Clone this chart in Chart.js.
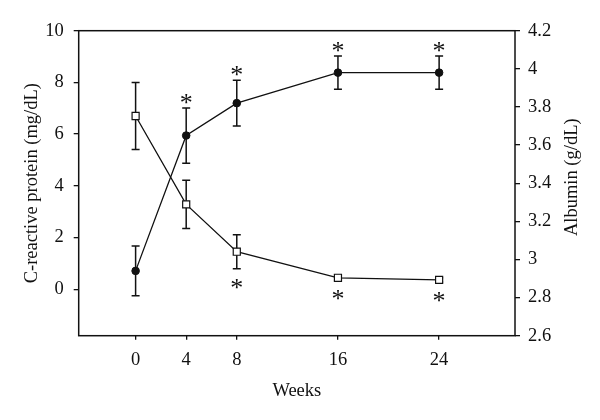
<!DOCTYPE html>
<html>
<head>
<meta charset="utf-8">
<script src="https://cdn.jsdelivr.net/npm/chart.js@4.4.1/dist/chart.umd.min.js"></script>
<style>
  html, body { margin: 0; padding: 0; background: #fff; }
</style>
</head>
<body>
<canvas id="chart" width="600" height="420"></canvas>
<script>
// values
const weeks = [0, 4, 8, 16, 24];
const crp = [6.7, 3.28, 1.45, 0.44, 0.36];
const crpSd = [1.3, 0.93, 0.66, 0.1, 0.08];
const crpSig = [false, false, true, true, true];
const albumin = [2.94, 3.65, 3.82, 3.98, 3.98];
const albuminSd = [0.13, 0.145, 0.12, 0.087, 0.087];
const albuminSig = [false, true, true, true, true];
const crpTicks = [0, 2, 4, 6, 8, 10];
const albuminTicks = [2.6, 2.8, 3, 3.2, 3.4, 3.6, 3.8, 4, 4.2];

const FONT = 'Liberation Serif, Times New Roman, serif';
const FS = 18.5;
const INK = '#111';

// SD bars behind the markers, asterisks + frame on top
const extras = {
  id: 'extras',
  beforeDatasetsDraw(chart) {
    const ctx = chart.ctx;
    const xs = chart.scales.x;
    ctx.save();
    ctx.strokeStyle = INK;
    ctx.lineWidth = 1.5;
    chart.data.datasets.forEach(ds => {
      const ys = chart.scales[ds.yAxisID];
      ds.data.forEach((p, i) => {
        const px = xs.getPixelForValue(p.x);
        const top = ys.getPixelForValue(p.y + ds.sd[i]);
        const bot = ys.getPixelForValue(p.y - ds.sd[i]);
        ctx.beginPath();
        ctx.moveTo(px, top); ctx.lineTo(px, bot);
        ctx.moveTo(px - 4, top); ctx.lineTo(px + 4, top);
        ctx.moveTo(px - 4, bot); ctx.lineTo(px + 4, bot);
        ctx.stroke();
      });
    });
    ctx.restore();
  },
  afterDatasetsDraw(chart) {
    const ctx = chart.ctx;
    const xs = chart.scales.x;
    const a = chart.chartArea;
    ctx.save();
    ctx.fillStyle = INK;
    ctx.font = '26px ' + FONT;
    ctx.textAlign = 'center';
    ctx.textBaseline = 'alphabetic';
    chart.data.datasets.forEach(ds => {
      const ys = chart.scales[ds.yAxisID];
      ds.data.forEach((p, i) => {
        if (!ds.sig[i]) return;
        const px = xs.getPixelForValue(p.x);
        let cy;
        if (ds.starAbove) cy = ys.getPixelForValue(p.y + ds.sd[i]) - 10;
        else cy = ys.getPixelForValue(p.y - ds.sd[i]) + 14;
        ctx.fillText('*', px, cy + 13);
      });
    });
    // frame
    ctx.strokeStyle = INK;
    ctx.lineWidth = 1.5;
    ctx.strokeRect(a.left, a.top, a.right - a.left, a.bottom - a.top);
    // right axis title, reading bottom to top
    ctx.font = FS + 'px ' + FONT;
    ctx.textBaseline = 'middle';
    ctx.translate(a.right + 57, (a.top + a.bottom) / 2 - 6);
    ctx.rotate(-Math.PI / 2);
    ctx.fillText('Albumin (g/dL)', 0, 0);
    ctx.restore();
  }
};

const tickGrid = len => ({
  display: true, drawOnChartArea: false, drawTicks: true,
  tickLength: len, color: INK, lineWidth: 1.3
});

new Chart(document.getElementById('chart'), {
  type: 'line',
  data: {
    datasets: [
      {
        label: 'Albumin',
        data: weeks.map((w, i) => ({ x: w, y: albumin[i] })),
        sd: albuminSd, sig: albuminSig, starAbove: true,
        yAxisID: 'y2',
        borderColor: INK, borderWidth: 1.3,
        pointStyle: 'circle', pointRadius: 3.8,
        pointBackgroundColor: INK, pointBorderColor: INK, pointBorderWidth: 1
      },
      {
        label: 'C-reactive protein',
        data: weeks.map((w, i) => ({ x: w, y: crp[i] })),
        sd: crpSd, sig: crpSig, starAbove: false,
        yAxisID: 'y',
        borderColor: INK, borderWidth: 1.3,
        pointStyle: 'rect', pointRadius: 5,
        pointBackgroundColor: '#fff', pointBorderColor: INK, pointBorderWidth: 1.2
      }
    ]
  },
  options: {
    responsive: false,
    animation: false,
    layout: { padding: { top: 30.7, right: 0, bottom: 0, left: 0 } },
    plugins: { legend: { display: false }, tooltip: { enabled: false } },
    elements: { line: { tension: 0 } },
    scales: {
      x: {
        type: 'linear', min: -4.5, max: 30,
        afterBuildTicks: s => { s.ticks = weeks.map(v => ({ value: v })); },
        afterFit: s => { s.height = 84.3; },
        grid: tickGrid(4),
        border: { display: false },
        ticks: { color: INK, font: { family: FONT, size: FS }, padding: 9 },
        title: { display: true, text: 'Weeks', color: INK,
                 font: { family: FONT, size: FS }, padding: { top: 0, bottom: 18 } }
      },
      y: {
        type: 'linear', position: 'left', min: -1.8, max: 10,
        afterBuildTicks: s => { s.ticks = crpTicks.map(v => ({ value: v })); },
        afterFit: s => { s.width = 78.7; },
        grid: tickGrid(5),
        border: { display: false },
        ticks: { color: INK, font: { family: FONT, size: FS }, padding: 10 },
        title: { display: true, text: 'C-reactive protein (mg/dL)', color: INK,
                 font: { family: FONT, size: FS }, padding: { top: 21, bottom: 0 } }
      },
      y2: {
        type: 'linear', position: 'right', min: 2.6, max: 4.2,
        afterBuildTicks: s => { s.ticks = albuminTicks.map(v => ({ value: v })); },
        afterFit: s => { s.width = 85; },
        grid: tickGrid(5),
        border: { display: false },
        ticks: { color: INK, font: { family: FONT, size: FS }, padding: 8,
                 callback: v => String(Number(v.toFixed(1))) }
      }
    }
  },
  plugins: [extras]
});
</script>
</body>
</html>
